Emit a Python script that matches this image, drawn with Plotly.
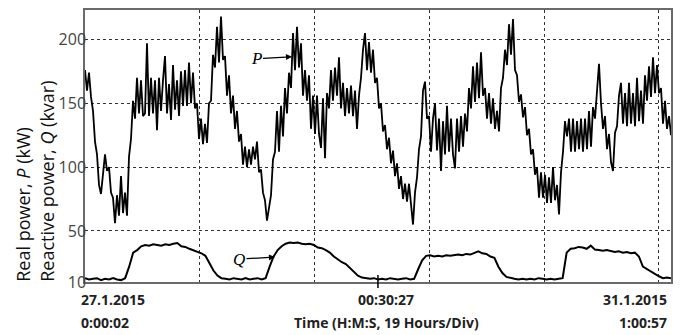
import plotly.graph_objects as go

# Time axis: hours from 27.1.2015 0:00:02 to 31.1.2015 1:00:57
X_END = 97.015
GRID_HOURS = [19, 38, 57, 76, 95]
MID_HOURS = 48.5

Y_TICKS = [10, 50, 100, 150, 200]
Y_TICK_TEXT = ["10", "50", "100", "150", "200"]

# Real power P (kW), sampled evenly over the full time range
P = [
    176, 160, 174, 155, 144, 120, 110, 86, 79, 96,
    110, 97, 100, 80, 76, 56, 78, 62, 93, 64,
    80, 62, 108, 122, 152, 138, 170, 142, 168, 140,
    142, 197, 140, 170, 142, 168, 129, 170, 144, 168,
    187, 142, 165, 137, 180, 145, 168, 140, 175, 148,
    176, 148, 182, 150, 174, 146, 150, 122, 138, 118,
    134, 119, 150, 152, 188, 178, 210, 182, 218, 184,
    187, 156, 172, 142, 156, 130, 144, 120, 126, 102,
    116, 100, 114, 102, 116, 106, 120, 96, 98, 80,
    74, 58, 68, 78, 106, 112, 144, 112, 148, 124,
    162, 142, 174, 162, 205, 176, 210, 178, 197, 156,
    176, 152, 172, 130, 156, 126, 156, 126, 115, 154,
    107, 158, 146, 176, 152, 178, 156, 186, 146, 166,
    140, 162, 142, 164, 140, 160, 130, 156, 170, 192,
    205, 176, 198, 174, 192, 166, 170, 146, 150, 128,
    133, 114, 123, 103, 113, 93, 103, 83, 93, 75,
    87, 73, 87, 72, 55, 80, 92, 114, 124, 160,
    167, 138, 140, 112, 138, 150, 113, 138, 97, 136,
    110, 148, 112, 138, 110, 99, 138, 112, 140, 116,
    142, 128, 162, 146, 179, 151, 182, 154, 190, 156,
    162, 138, 158, 134, 154, 130, 144, 128, 162, 170,
    192, 180, 212, 188, 216, 176, 172, 151, 157, 139,
    147, 125, 130, 110, 114, 94, 100, 76, 96, 76,
    94, 72, 92, 72, 100, 74, 86, 63, 96, 112,
    136, 124, 138, 112, 138, 112, 136, 114, 138, 112,
    138, 114, 144, 116, 147, 138, 162, 181, 150, 130,
    140, 114, 126, 104, 97, 127, 132, 156, 166, 134,
    158, 132, 166, 134, 158, 132, 170, 136, 160, 134,
    172, 152, 179, 155, 186, 158, 180, 158, 162, 134,
    152, 130, 140, 125,
]

# Reactive power Q (kvar), sampled evenly over the full time range
Q = [
    13, 12, 12.5, 13, 11.5, 12.5, 12, 13, 12, 11.5,
    13, 22, 33, 35, 38, 39, 38.5, 39.5, 39, 38.5,
    39.5, 39, 40, 40.5, 38, 37.5, 36, 35, 33.5, 32.5,
    30.5, 25, 19, 15, 13, 12.5, 12, 13, 12.5, 12,
    13, 12, 12.5, 13, 12, 13, 22, 30, 35, 38,
    40, 41, 40.5, 41, 40, 39.5, 40, 39, 37, 36.5,
    35, 33, 30, 27.5, 25.5, 24, 21, 18, 15, 13.5,
    13, 12.5, 13, 12, 12.5, 12, 13, 12.5, 12, 12.5,
    13, 12, 12.5, 20, 27, 30.5, 31, 30, 30.5, 30,
    31, 30.5, 31, 31.5, 31, 32, 31.5, 32.5, 34, 32.5,
    32, 30, 29, 22, 17, 14, 13, 12.5, 12, 12.5,
    12, 12.5, 12, 13, 12.5, 12, 12.5, 12, 12.5, 13,
    33, 36, 36.5, 37.5, 37, 36, 38.5, 35.5, 35, 34.5,
    35, 34, 33.5, 34, 33, 33.5, 32.5, 33, 30, 22,
    20, 18, 16, 14.5, 13, 13.5, 13,
]

P_ARROW = (34.27, 186.5)
Q_ARROW = (31.45, 29.5)

fig = go.Figure()
fig.add_trace(go.Scatter(
    x0=0, dx=X_END / (len(P) - 1), y=P, mode="lines",
    line=dict(color="black", width=1.8), hoverinfo="skip", showlegend=False))
fig.add_trace(go.Scatter(
    x0=0, dx=X_END / (len(Q) - 1), y=Q, mode="lines",
    line=dict(color="black", width=2), hoverinfo="skip", showlegend=False))

# the page adds an 8 px body margin, so the figure is 8 px smaller than the window
fig.update_layout(
    width=681, height=327,
    margin=dict(l=77, r=18, t=0, b=53),
    paper_bgcolor="white", plot_bgcolor="white",
    font=dict(family="Open Sans", color="#222"),
    xaxis=dict(
        range=[0, X_END], tickvals=GRID_HOURS, showticklabels=False,
        showgrid=True, gridcolor="#333", griddash="dot", gridwidth=1,
        zeroline=False, showline=True, linecolor="#6a6a6a", linewidth=1.5,
        mirror=True, ticks=""),
    yaxis=dict(
        range=[10, 223.1], tickvals=Y_TICKS, ticktext=Y_TICK_TEXT,
        showgrid=True, gridcolor="#333", griddash="dot", gridwidth=1,
        zeroline=False, showline=True, linecolor="#6a6a6a", linewidth=1.5,
        mirror=True, ticks="", ticklabelstandoff=-6,
        tickfont=dict(family="Open Sans", size=16, color="#444")),
)

# middle tick mark
fig.add_shape(type="line", xref="x", yref="paper", x0=MID_HOURS, x1=MID_HOURS,
              y0=-0.022, y1=0.026, line=dict(color="black", width=1.5))

lab_font = dict(family="Open Sans", size=14, color="#222")
annos = [
    dict(text="<b>27.1.2015</b>", x=-0.0102, xanchor="left", y=-0.0657),
    dict(text="<b>0:00:02</b>", x=-0.0102, xanchor="left", y=-0.1496),
    dict(text="<b>00:30:27</b>", x=0.514, xanchor="center", y=-0.0657),
    dict(text="<b>Time (H:M:S, 19 Hours/Div)</b>", x=0.514, xanchor="center", y=-0.1496),
    dict(text="<b>31.1.2015</b>", x=0.9966, xanchor="right", y=-0.0657),
    dict(text="<b>1:00:57</b>", x=0.9966, xanchor="right", y=-0.1496),
]
for a in annos:
    fig.add_annotation(xref="paper", yref="paper", yanchor="middle",
                       showarrow=False, font=lab_font, **a)

fig.add_annotation(
    xref="paper", yref="paper", x=-0.0853, y=0.3686, xanchor="center", yanchor="middle",
    text="Real power, <i>P</i> (kW)<br>Reactive power, <i>Q</i> (kvar)",
    textangle=-90, align="left", showarrow=False,
    font=dict(family="Open Sans", size=18, color="#111"))

for label, (hx, hy) in (("P", P_ARROW), ("Q", Q_ARROW)):
    fig.add_annotation(
        x=hx, y=hy, xref="x", yref="y", ax=-36, ay=2,
        text="<i>" + label + "</i>", showarrow=True, arrowhead=2, arrowsize=1,
        arrowwidth=1.2, arrowcolor="black",
        font=dict(family="Liberation Serif", size=17, color="black"))

fig.write_html("out.html")
